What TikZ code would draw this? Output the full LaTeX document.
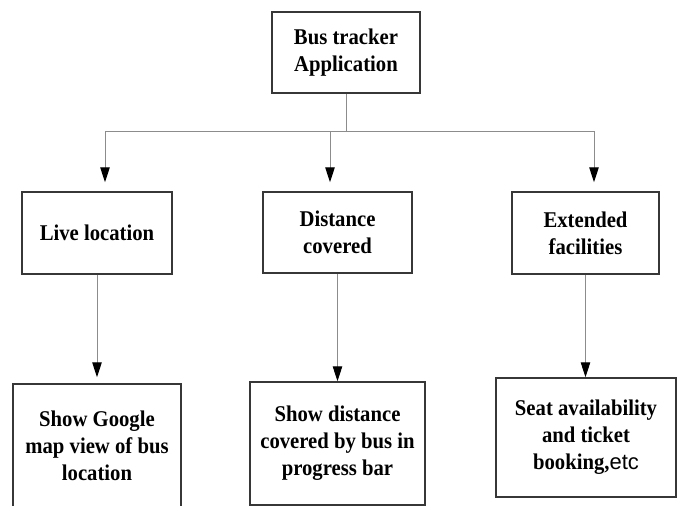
\documentclass[tikz,border=0pt]{standalone}
\usepackage{fontspec}
\setmainfont{Liberation Serif}[BoldFont={Liberation Serif Bold}, BoldFeatures={FakeStretch=0.92}]
\newfontfamily\etcfont{Liberation Sans}
\usetikzlibrary{arrows.meta}
\definecolor{boxline}{RGB}{55,55,55}
\definecolor{wire}{RGB}{140,140,140}
\begin{document}
\begin{tikzpicture}[x=1pt,y=-1pt,
  box/.style={draw=boxline, line width=1.5pt, fill=white, inner sep=0pt,
    align=center, font=\fontsize{22.5}{27}\selectfont\bfseries},
  wireline/.style={draw=wire, line width=1pt},
  arr/.style={wireline, -{Triangle[length=15pt,width=9.5pt,fill=black,color=black]}}]
\clip (0,0) rectangle (681,506);
\fill[white] (0,0) rectangle (681,506);

% top level
\node[box, minimum width=148pt, minimum height=81pt] (top) at (346,52.5)
  {Bus tracker\\Application};

% second level
\node[box, minimum width=150pt, minimum height=82pt] (live) at (97,233)
  {Live location};
\node[box, minimum width=149pt, minimum height=81pt] (dist) at (337.5,232.5)
  {Distance\\covered};
\node[box, minimum width=147pt, minimum height=82pt] (ext) at (585.5,233)
  {Extended\\facilities};

% third level
\node[box, minimum width=168pt, minimum height=124pt] (bl) at (97,446)
  {Show Google\\map view of bus\\location};
\node[box, minimum width=175pt, minimum height=123pt] (bm) at (337.5,443.5)
  {Show distance\\covered by bus in\\progress bar};
\node[box, minimum width=180pt, minimum height=119pt] (br) at (586,437.5)
  {Seat availability\\and ticket\\booking,{\etcfont\mdseries\fontsize{22}{27}\selectfont etc}};

% distribution bus below the top box
\coordinate (j)  at (346,131);
\coordinate (jl) at (105,131);
\coordinate (jm) at (330,131);
\coordinate (jr) at (594,131);
\draw[wireline] (top.south) -- (j);
\draw[wireline] (jl) -- (jr);
\draw[arr, shorten >=9pt] (jl) -- (jl |- live.north);
\draw[arr, shorten >=9pt] (jm) -- (jm |- dist.north);
\draw[arr, shorten >=9pt] (jr) -- (jr |- ext.north);

% second to third level
\draw[arr, shorten >=6pt] (live.south) -- (live.south |- bl.north);
\draw[arr] (dist.south) -- (dist.south |- bm.north);
\draw[arr] (ext.south) -- (ext.south |- br.north);
\end{tikzpicture}
\end{document}
